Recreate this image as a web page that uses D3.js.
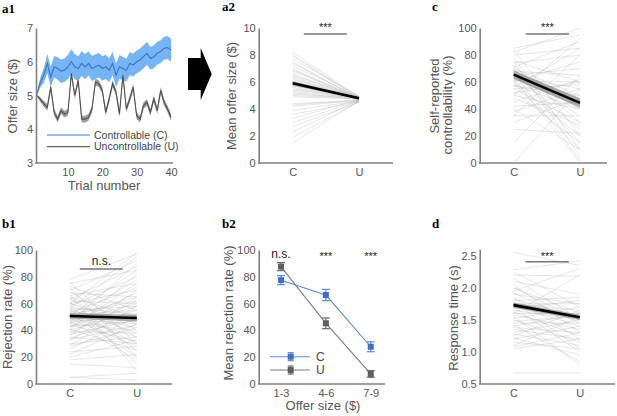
<!DOCTYPE html>
<html>
<head>
<meta charset="utf-8">
<script src="https://cdn.jsdelivr.net/npm/d3@7"></script>
<style>
body { margin: 0; background: #fff; }
svg { font-family: "Liberation Sans", Arial, sans-serif; }
</style>
</head>
<body>
<svg id="fig" width="617" height="416"></svg>
<script>
// ---- a1: offer size per trial
const trials = d3.range(1, 41)
const offerC = [5.05, 5.4, 5.6, 5.95, 5.55, 5.85, 5.8, 5.72, 5.75, 5.85,
                6.0, 5.85, 5.8, 5.95, 5.85, 5.95, 5.8, 5.85, 5.9, 5.8,
                5.85, 5.75, 5.95, 5.6, 5.85, 5.8, 5.75, 5.95, 5.9, 6.0,
                6.05, 6.15, 6.25, 6.1, 6.15, 6.25, 6.3, 6.4, 6.42, 6.35]
const offerCse = [0.03, 0.15, 0.22, 0.28, 0.3, 0.32, 0.33, 0.35, 0.35, 0.36,
                  0.37, 0.37, 0.36, 0.37, 0.37, 0.36, 0.37, 0.37, 0.36, 0.36,
                  0.36, 0.35, 0.35, 0.35, 0.35, 0.35, 0.34, 0.34, 0.34, 0.34,
                  0.34, 0.34, 0.34, 0.34, 0.34, 0.34, 0.34, 0.34, 0.34, 0.34]
const offerU = [5.0, 4.88, 4.75, 4.65, 5.25, 4.5, 4.3, 4.55, 4.45, 4.5,
                5.65, 5.0, 5.45, 4.3, 4.3, 4.35, 4.6, 5.4, 5.35, 5.15,
                4.5, 4.9, 5.35, 5.1, 4.45, 5.6, 4.6, 4.9, 5.25, 4.4,
                4.3, 4.7, 4.8, 4.5, 4.9, 4.55, 5.15, 4.8, 4.6, 4.35]
const offerUse = [0.02, 0.07, 0.09, 0.1, 0.1, 0.1, 0.1, 0.1, 0.1, 0.1,
                  0.1, 0.1, 0.1, 0.1, 0.1, 0.1, 0.1, 0.1, 0.1, 0.1,
                  0.1, 0.1, 0.1, 0.1, 0.1, 0.1, 0.1, 0.1, 0.1, 0.1,
                  0.1, 0.1, 0.1, 0.1, 0.1, 0.1, 0.1, 0.1, 0.1, 0.1]
const legendA1 = ["Controllable (C)", "Uncontrollable (U)"]

// ---- paired panels (C vs U)
const conds = ["C", "U"]
const meanOfferC = [8.2, 8.0, 7.9, 7.7, 7.5, 7.4, 7.2, 7.0, 6.9, 6.8, 6.6, 6.5, 6.4, 6.3,
                    6.2, 6.1, 6.0, 6.0, 5.9, 5.8, 5.7, 5.6, 5.5, 5.4, 5.3, 5.2, 5.1, 5.0,
                    4.9, 4.4, 4.3, 4.2, 3.9, 3.6, 3.3, 3.0, 2.7, 2.3, 1.9, 1.5]
const meanOfferU = [4.9, 4.85, 4.8, 4.95, 4.75, 4.8, 4.9, 4.7, 4.85, 4.8, 4.75, 4.9, 4.8, 4.7,
                    4.85, 4.8, 4.75, 4.9, 4.8, 4.7, 4.85, 4.8, 4.75, 4.9, 4.8, 4.7, 4.85, 4.8,
                    4.75, 4.6, 4.7, 4.65, 4.6, 4.55, 4.7, 4.6, 4.5, 4.65, 4.55, 4.6]
const meanOfferAvg = [5.9, 4.8], meanOfferSe = [0.15, 0.05]

const ctrlC = [85, 84, 82, 80, 78, 76, 75, 74, 72, 71, 70, 70, 69, 68, 67, 66, 65, 65, 64, 63,
               62, 61, 60, 60, 59, 58, 57, 56, 55, 55, 53, 52, 50, 50, 48, 45, 42, 40, 38, 35,
               35, 30, 25, 15, 0]
const ctrlU = [95, 20, 100, 85, 10, 60, 5, 80, 30, 90, 50, 15, 40, 65, 2, 25, 70, 35, 55, 0,
               45, 60, 20, 75, 10, 40, 50, 85, 30, 58, 15, 60, 40, 92, 28, 62, 45, 10, 55, 35,
               80, 48, 22, 65, 55]
const ctrlAvg = [65.5, 44.5], ctrlSe = [3, 3.5]

const rejC = [78, 76, 75, 73, 72, 70, 69, 68, 67, 66, 65, 64, 63, 62, 61, 60, 60, 59, 58, 57,
              56, 56, 55, 55, 54, 53, 53, 52, 52, 51, 51, 50, 50, 49, 49, 48, 48, 47, 47, 46,
              46, 45, 45, 44, 43, 43, 42, 41, 40, 40, 39, 38, 37, 36, 35, 34, 33, 32, 30, 29,
              28, 26, 24, 22, 20, 18, 15, 5, 5, 60]
const rejU = [97, 30, 85, 55, 20, 92, 40, 65, 10, 75, 50, 35, 88, 60, 25, 45, 70, 15, 80, 52,
              38, 95, 58, 30, 48, 72, 20, 62, 42, 55, 85, 35, 65, 50, 28, 78, 45, 60, 18, 52,
              90, 40, 68, 32, 58, 47, 75, 25, 55, 82, 38, 62, 48, 70, 30, 52, 44, 65, 35, 58,
              42, 50, 28, 45, 33, 22, 12, 8, 3, 98]
const rejAvg = [50.8, 49.2], rejSe = [2, 2.5]

const rtC = [2.55, 2.28, 2.25, 2.2, 2.15, 2.1, 2.05, 2.0, 1.95, 1.92, 1.9, 1.85, 1.82, 1.8, 1.78,
             1.75, 1.72, 1.7, 1.68, 1.65, 1.62, 1.6, 1.58, 1.55, 1.52, 1.5, 1.48, 1.45, 1.42, 1.4,
             1.38, 1.35, 1.3, 1.28, 1.25, 1.2, 1.15, 1.1, 1.08, 1.05, 1.22, 1.75, 2.0, 1.6, 0.67]
const rtU = [2.35, 2.42, 1.7, 2.18, 1.5, 1.9, 1.3, 1.6, 2.3, 1.45, 1.75, 1.2, 1.55, 1.85, 1.05,
             1.65, 1.4, 1.0, 1.8, 1.5, 1.25, 1.6, 1.35, 0.8, 1.7, 1.15, 1.55, 1.45, 0.85, 1.6,
             1.3, 1.2, 1.5, 1.1, 1.65, 1.4, 1.05, 1.55, 1.3, 1.2, 0.95, 1.75, 1.5, 2.2, 0.67]
const rtAvg = [1.73, 1.54], rtSe = [0.04, 0.04]

// ---- b2: rejection rate by offer bin
const bins = ["1-3", "4-6", "7-9"]
const binRejC = [77.5, 66.4, 27.8], binRejCse = [3.4, 4.2, 3.7]
const binRejU = [87.6, 45.3, 7.5], binRejUse = [3.0, 4.0, 2.5]
const binSig = ["n.s.", "***", "***"]

const svg = d3.select("#fig")
const axisColor = "#808080"
const tickColor = "#555"

function styleAxis(g) {
    g.attr("font-size", 11).attr("font-family", null)
    g.selectAll(".tick text").attr("fill", tickColor)
    g.select(".domain").attr("stroke", axisColor).attr("stroke-width", 1.6)
}

function yAxis(y, f, ticks, fmt) {
    svg.append("g")
        .attr("transform", `translate(${f.x0},0)`)
        .call(d3.axisLeft(y).tickValues(ticks).tickSize(0).tickSizeOuter(0).tickPadding(3).tickFormat(fmt || d3.format("d")))
        .call(styleAxis)
}

function xAxis(x, f, ticks) {
    let ax = d3.axisBottom(x).tickSize(0).tickPadding(5)
    if (ticks) ax.tickValues(ticks)
    let g = svg.append("g")
        .attr("transform", `translate(0,${f.y1})`)
        .call(ax)
        .call(styleAxis)
    g.select(".domain").remove()
    g.append("line")
        .attr("x1", f.x0 - 0.8).attr("x2", f.x1)
        .attr("stroke", axisColor).attr("stroke-width", 1.6)
}

function yTitle(lines, x, cy) {
    lines.forEach(([t, dx, c]) => {
        svg.append("text")
            .attr("transform", `translate(${x + dx},${c || cy}) rotate(-90)`)
            .attr("text-anchor", "middle")
            .attr("font-size", 13).attr("fill", tickColor)
            .text(t)
    })
}

function panelLabel(t, x, y) {
    svg.append("text").attr("x", x).attr("y", y)
        .attr("font-family", "'Liberation Serif', 'DejaVu Serif', serif")
        .attr("font-weight", "bold").attr("font-size", 13)
        .text(t)
}

function sigBar(x1, x2, y, label, size, dy) {
    svg.append("line").attr("x1", x1).attr("x2", x2).attr("y1", y).attr("y2", y)
        .attr("stroke", "#777").attr("stroke-width", 1.5)
    svg.append("text").attr("x", (x1 + x2) / 2).attr("y", y - dy)
        .attr("text-anchor", "middle").attr("font-size", size).attr("fill", "#222")
        .text(label)
}

function pairedPanel(f, cVals, uVals, avg, se, domain, ticks, fmt) {
    let x = d3.scalePoint().domain(conds).range([f.x0, f.x1]).padding(f.pad).align(f.align)
    let y = d3.scaleLinear().domain(domain).range([f.y1, f.y0])
    let subj = cVals.map((c, i) => [c, uVals[i]])
    svg.append("g").selectAll("line").data(subj).join("line")
        .attr("x1", x("C")).attr("x2", x("U"))
        .attr("y1", d => y(d[0])).attr("y2", d => y(d[1]))
        .attr("stroke", "#a8a8a8").attr("stroke-opacity", 0.42).attr("stroke-width", 0.7)
    let band = d3.area().x((d, i) => x(conds[i])).y0(d => y(d[0] - d[1])).y1(d => y(d[0] + d[1]))
    let pts = avg.map((m, i) => [m, se[i]])
    svg.append("path").datum(pts).attr("d", band).attr("fill", "#8f8f8f").attr("fill-opacity", 0.75)
    svg.append("path").datum(pts)
        .attr("d", d3.line().x((d, i) => x(conds[i])).y(d => y(d[0])))
        .attr("stroke", "#000").attr("stroke-width", 2.6).attr("fill", "none")
    yAxis(y, f, ticks, fmt)
    xAxis(x, f)
    return x
}

// ================= a1 =================
{
    let f = {x0: 36, x1: 173, y0: 28, y1: 163}
    let x = d3.scaleLinear().domain([1, 40]).range([37, 171])
    let y = d3.scaleLinear().domain([3, 7]).range([f.y1, f.y0])
    let band = (m, s) => d3.area().x((d, i) => x(trials[i])).y0((d, i) => y(m[i] - s[i])).y1((d, i) => y(m[i] + s[i]))
    let line = m => d3.line().x((d, i) => x(trials[i])).y((d, i) => y(m[i]))
    svg.append("path").datum(trials).attr("d", band(offerC, offerCse)).attr("fill", "#77b4f4")
    svg.append("path").datum(trials).attr("d", line(offerC)).attr("fill", "none")
        .attr("stroke", "#3d78c8").attr("stroke-width", 1.2)
    svg.append("path").datum(trials).attr("d", band(offerU, offerUse)).attr("fill", "#9c9c9c")
    svg.append("path").datum(trials).attr("d", line(offerU)).attr("fill", "none")
        .attr("stroke", "#505050").attr("stroke-width", 1.1)

    yAxis(y, f, [3, 4, 5, 6, 7])
    xAxis(x, f, [10, 20, 30, 40])
    svg.append("text").attr("x", 104).attr("y", 190).attr("text-anchor", "middle")
        .attr("font-size", 13).attr("fill", tickColor).text("Trial number")
    yTitle([["Offer size ($)", 0]], 17, 96)

    let lg = svg.append("g").selectAll("g").data(legendA1).join("g")
        .attr("transform", (d, i) => `translate(47,${135 + i * 11.7})`)
    lg.append("line").attr("x2", 43).attr("stroke", (d, i) => i ? "#666" : "#3d78c8").attr("stroke-width", 1.2)
    lg.append("text").attr("x", 47).attr("dy", "0.35em").attr("font-size", 10.5).attr("fill", "#444").text(d => d)
    panelLabel("a1", 2, 13)

    // arrow between a1 and a2
    svg.append("path")
        .attr("d", "M188,58 L200.7,58 L200.7,48 L211.7,74 L200.7,100 L200.7,90 L188,90 Z")
        .attr("fill", "#000")
}

// ================= a2 =================
{
    let f = {x0: 258.7, x1: 393, y0: 28, y1: 163, pad: 0.513, align: 0.5}
    let x = pairedPanel(f, meanOfferC, meanOfferU, meanOfferAvg, meanOfferSe, [0, 10], [0, 2, 4, 6, 8, 10])
    yTitle([["Mean offer size ($)", 0]], 236, 96)
    sigBar(x("C") + 11, x("U") - 12, 34, "***", 11, 3)
    panelLabel("a2", 222, 11)
}

// ================= c =================
{
    let f = {x0: 479.7, x1: 607, y0: 28, y1: 163, pad: 0.46, align: 0.557}
    let x = pairedPanel(f, ctrlC, ctrlU, ctrlAvg, ctrlSe, [0, 100], [0, 20, 40, 60, 80, 100])
    yTitle([["Self-reported", 0, 96], ["controllability (%)", 13, 105]], 439, 100)
    sigBar(x("C") + 12, x("U") - 11, 34, "***", 11, 3)
    panelLabel("c", 432, 11)
}

// ================= b1 =================
{
    let f = {x0: 36, x1: 172, y0: 250, y1: 384, pad: 0.515, align: 0.49}
    let x = pairedPanel(f, rejC, rejU, rejAvg, rejSe, [0, 100], [0, 20, 40, 60, 80, 100])
    yTitle([["Rejection rate (%)", 0]], 12, 317)
    sigBar(x("C") + 10, x("U") - 14, 269, "n.s.", 12, 4)
    panelLabel("b1", 2, 228)
}

// ================= b2 =================
{
    let f = {x0: 258.7, x1: 385, y0: 250, y1: 384}
    let x = d3.scalePoint().domain(bins).range([f.x0, f.x1]).padding(0.408).align(0.61)
    let y = d3.scaleLinear().domain([0, 100]).range([f.y1, f.y0])
    let series = [
        {vals: binRejC, se: binRejCse, line: "#5b8ad4", mark: "#3f6fc2", err: "#5b8ad4"},
        {vals: binRejU, se: binRejUse, line: "#7a7a7a", mark: "#5f5f5f", err: "#6a6a6a"},
    ]
    for (let s of series) {
        svg.append("path").datum(s.vals)
            .attr("d", d3.line().x((d, i) => x(bins[i])).y(d => y(d)))
            .attr("fill", "none").attr("stroke", s.line).attr("stroke-width", 1.1)
        let pt = svg.append("g").selectAll("g").data(s.vals).join("g")
            .attr("transform", (d, i) => `translate(${x(bins[i])},0)`)
        pt.append("line").attr("y1", (d, i) => y(d - s.se[i])).attr("y2", (d, i) => y(d + s.se[i]))
            .attr("stroke", s.err).attr("stroke-width", 1.2)
        for (let sign of [-1, 1]) {
            pt.append("line").attr("x1", -4).attr("x2", 4)
                .attr("y1", (d, i) => y(d + sign * s.se[i])).attr("y2", (d, i) => y(d + sign * s.se[i]))
                .attr("stroke", s.err).attr("stroke-width", 1.2)
        }
        pt.append("rect").attr("x", -3).attr("y", d => y(d) - 3).attr("width", 6).attr("height", 6)
            .attr("fill", s.mark)
    }
    yAxis(y, f, [0, 20, 40, 60, 80, 100])
    xAxis(x, f)
    svg.append("g").selectAll("text").data(binSig).join("text")
        .attr("x", (d, i) => x(bins[i])).attr("y", (d, i) => i ? 260 : 258)
        .attr("text-anchor", "middle").attr("font-size", (d, i) => i ? 11 : 12).attr("fill", "#222")
        .text(d => d)
    // legend
    let lg = svg.append("g").selectAll("g").data(series).join("g")
        .attr("transform", (d, i) => `translate(270,${356.7 + i * 13.3})`)
    lg.append("line").attr("x2", 40).attr("stroke", d => d.line).attr("stroke-width", 1.1)
    for (let sign of [-1, 1]) {
        lg.append("line").attr("x1", 17.7).attr("x2", 23.7).attr("y1", sign * 4).attr("y2", sign * 4)
            .attr("stroke", d => d.err).attr("stroke-width", 1.2)
    }
    lg.append("line").attr("x1", 20.7).attr("x2", 20.7).attr("y1", -4).attr("y2", 4).attr("stroke", d => d.err).attr("stroke-width", 1.2)
    lg.append("rect").attr("x", 17.7).attr("y", -3).attr("width", 6).attr("height", 6).attr("fill", d => d.mark)
    lg.append("text").attr("x", 46).attr("dy", "0.36em").attr("font-size", 12).attr("fill", "#444")
        .text((d, i) => conds[i])
    svg.append("text").attr("x", 323).attr("y", 410).attr("text-anchor", "middle")
        .attr("font-size", 13).attr("fill", tickColor).text("Offer size ($)")
    yTitle([["Mean rejection rate (%)", 0]], 233, 313)
    panelLabel("b2", 222, 228)
}

// ================= d =================
{
    let f = {x0: 479.7, x1: 615, y0: 249.3, y1: 384, pad: 0.52, align: 0.49}
    let x = pairedPanel(f, rtC, rtU, rtAvg, rtSe, [0.5, 2.6], [0.5, 1, 1.5, 2, 2.5], d3.format(".1f"))
    yTitle([["Response time (s)", 0]], 458, 318)
    sigBar(x("C") + 12, x("U") - 11, 261.7, "***", 11, 2)
    panelLabel("d", 432, 228)
}
</script>
</body>
</html>
